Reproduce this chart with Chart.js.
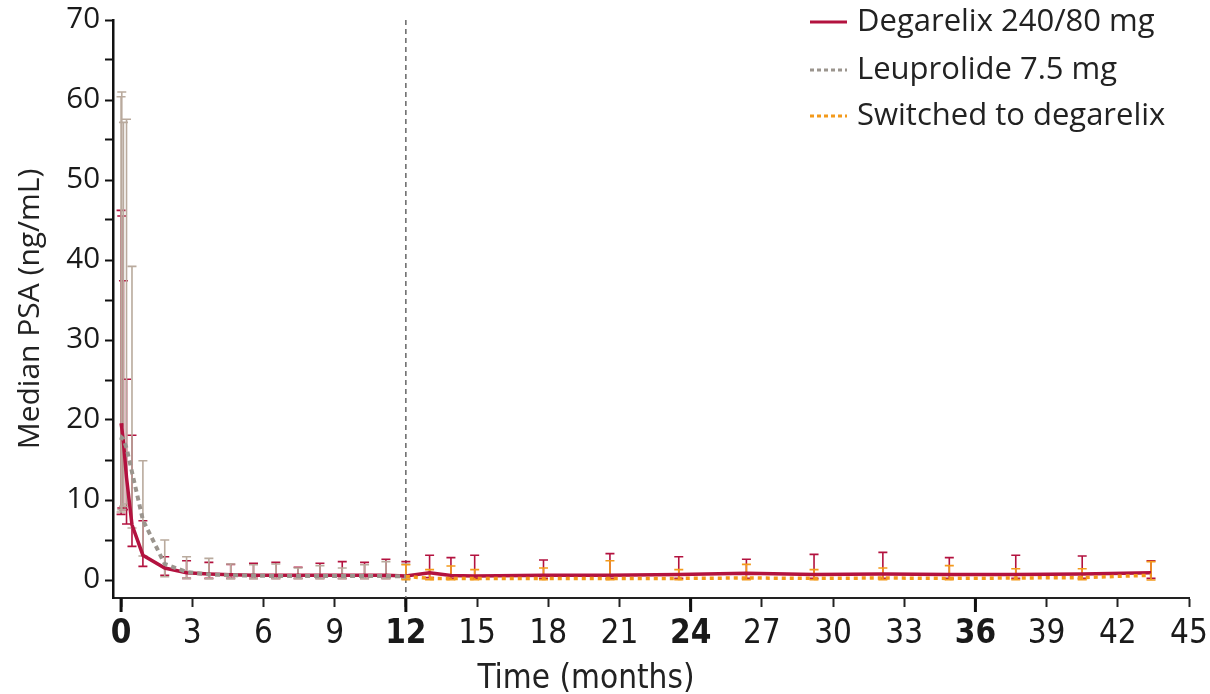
<!DOCTYPE html>
<html>
<head>
<meta charset="utf-8">
<script src="https://cdn.jsdelivr.net/npm/chart.js@4"></script>
<style>
  html, body { margin: 0; padding: 0; background: #fff; }
  canvas { display: block; }
</style>
</head>
<body>
<canvas id="psaChart" width="1210" height="694"></canvas>
<script>
// Time points (months) and median PSA with spread, per treatment group
const degMonths = [0, 0.03, 0.1, 0.23, 0.46, 0.92, 1.84, 2.76, 3.7, 4.62, 5.58, 6.52, 7.46, 8.38, 9.32, 10.26, 11.16, 12.0,
                   13.0, 13.9, 14.9, 17.8, 20.6, 23.5, 26.35, 29.2, 32.1, 34.9, 37.7, 40.5, 43.4];
const degMedian = [19.6, 19.0, 17.2, 12.8, 6.9, 3.1, 1.5, 0.9, 0.75, 0.65, 0.6, 0.6, 0.6, 0.6, 0.6, 0.6, 0.6, 0.5,
                   0.9, 0.55, 0.5, 0.6, 0.6, 0.7, 0.85, 0.7, 0.75, 0.7, 0.7, 0.75, 0.9];
const degHigh   = [46.2, 45.5, 37.4, 25.1, 18.1, 7.4, 2.9, 2.4, 2.2, 1.95, 2.1, 2.2, 1.6, 2.1, 2.3, 2.2, 2.6, 2.3,
                   3.1, 2.8, 3.1, 2.5, 3.3, 2.9, 2.6, 3.2, 3.45, 2.8, 3.1, 3.0, 2.4];
const degLow    = [8.2, 9.0, 8.8, 7.0, 4.2, 1.7, 0.6, 0.2, 0.2, 0.2, 0.2, 0.2, 0.2, 0.2, 0.2, 0.2, 0.2, 0.2,
                   0.3, 0.2, 0.2, 0.2, 0.2, 0.2, 0.2, 0.2, 0.2, 0.2, 0.2, 0.2, 0.2];

const leuMonths = [0, 0.03, 0.1, 0.23, 0.46, 0.92, 1.84, 2.76, 3.7, 4.62, 5.58, 6.52, 7.46, 8.38, 9.32, 10.26, 11.16, 12.0];
const leuMedian = [17.5, 17.8, 17.6, 16.5, 13.5, 7.5, 2.0, 1.0, 0.7, 0.6, 0.55, 0.5, 0.5, 0.5, 0.5, 0.5, 0.5, 0.45];
const leuHigh   = [60.4, 61.0, 57.2, 57.6, 39.2, 14.9, 5.0, 2.9, 2.7, 2.0, 1.9, 2.0, 1.5, 1.8, 1.5, 1.9, 2.3, 2.0];
const leuLow    = [8.5, 8.8, 9.2, 9.5, 6.5, 3.0, 0.4, 0.2, 0.15, 0.15, 0.15, 0.15, 0.15, 0.15, 0.15, 0.15, 0.15, 0.15];

const swMonths = [12.0, 13.0, 13.9, 14.9, 17.8, 20.6, 23.5, 26.35, 29.2, 32.1, 34.9, 37.7, 40.5, 43.4];
const swMedian = [0.45, 0.2, 0.2, 0.2, 0.2, 0.2, 0.2, 0.25, 0.2, 0.25, 0.2, 0.25, 0.3, 0.6];
const swHigh   = [1.9, 1.3, 1.75, 1.3, 1.5, 2.4, 1.3, 1.95, 1.3, 1.5, 1.8, 1.4, 1.4, 2.3];
const swLow    = [0.05, 0.05, 0.05, 0.05, 0.05, 0.05, 0.05, 0.05, 0.05, 0.05, 0.05, 0.05, 0.05, 0.0];

const xTicks = [0, 3, 6, 9, 12, 15, 18, 21, 24, 27, 30, 33, 36, 39, 42, 45];
const boldTicks = [0, 12, 24, 36];
const yTicks = [0, 5, 10, 15, 20, 25, 30, 35, 40, 45, 50, 55, 60, 65, 70];
const switchMonth = 12;

const seriesNames = ['Degarelix 240/80 mg', 'Leuprolide 7.5 mg', 'Switched to degarelix'];
const xTitle = 'Time (months)';

const RED = '#b3123f';
const GREY = '#9b958e';
const TAN = '#b9aa9d';
const ORANGE = '#f39a1b';
const NARROW = '"Liberation Sans Narrow", "DejaVu Sans Condensed", sans-serif';

const toPoints = (xs, ys) => xs.map((x, i) => ({ x: x, y: ys[i] }));

// whiskers with caps, drawn under the lines
const errorBars = {
  id: 'errorBars',
  beforeDatasetsDraw(chart) {
    const { ctx, scales: { x, y } } = chart;
    ctx.save();
    // switch point marker
    const px = x.getPixelForValue(switchMonth);
    ctx.strokeStyle = '#666';
    ctx.lineWidth = 1.5;
    ctx.setLineDash([5, 4]);
    ctx.beginPath();
    ctx.moveTo(px, chart.chartArea.top);
    ctx.lineTo(px, chart.chartArea.bottom);
    ctx.stroke();
    ctx.setLineDash([]);

    chart.data.datasets.forEach(ds => {
      if (!ds.errHigh) return;
      ctx.strokeStyle = ds.errColor;
      ctx.lineWidth = 1.6;
      ds.data.forEach((p, i) => {
        const cx = x.getPixelForValue(p.x);
        const yh = y.getPixelForValue(ds.errHigh[i]);
        const yl = y.getPixelForValue(ds.errLow[i]);
        const cap = 4.5;
        ctx.beginPath();
        ctx.moveTo(cx, yh); ctx.lineTo(cx, yl);
        ctx.moveTo(cx - cap, yh); ctx.lineTo(cx + cap, yh);
        ctx.moveTo(cx - cap, yl); ctx.lineTo(cx + cap, yl);
        ctx.stroke();
      });
    });
    ctx.restore();
  },
  afterDraw(chart) {
    const { ctx, scales: { x } } = chart;
    ctx.save();
    // longer, heavier ticks at each year
    ctx.strokeStyle = '#111';
    ctx.lineWidth = 3;
    boldTicks.forEach(v => {
      const px = x.getPixelForValue(v);
      ctx.beginPath();
      ctx.moveTo(px, x.top);
      ctx.lineTo(px, x.top + 14);
      ctx.stroke();
    });

    // x axis title, set a little left of centre
    ctx.fillStyle = '#222';
    ctx.font = '33px ' + NARROW;
    ctx.textAlign = 'center';
    ctx.textBaseline = 'middle';
    ctx.fillText(xTitle, 586, 679);

    // legend in the top right corner
    const rows = [
      { color: RED, dash: [], width: 3 },
      { color: GREY, dash: [4, 3], width: 3 },
      { color: ORANGE, dash: [4, 3], width: 3 }
    ];
    const rowY = [22, 70, 116];
    ctx.font = '31px "Open Sans"';
    ctx.textAlign = 'left';
    rows.forEach((r, i) => {
      ctx.strokeStyle = r.color;
      ctx.lineWidth = r.width;
      ctx.setLineDash(r.dash);
      ctx.beginPath();
      ctx.moveTo(810, rowY[i]);
      ctx.lineTo(847, rowY[i]);
      ctx.stroke();
      ctx.setLineDash([]);
      ctx.fillStyle = '#222';
      ctx.fillText(seriesNames[i], 857, rowY[i]);
    });
    ctx.restore();
  }
};

const ctx = document.getElementById('psaChart').getContext('2d');

new Chart(ctx, {
  type: 'line',
  data: {
    datasets: [
      {
        label: seriesNames[0],
        data: toPoints(degMonths, degMedian),
        errHigh: degHigh, errLow: degLow, errColor: RED,
        borderColor: RED,
        borderWidth: 3.5,
        pointRadius: 0,
        order: 2
      },
      {
        label: seriesNames[1],
        data: toPoints(leuMonths, leuMedian),
        errHigh: leuHigh, errLow: leuLow, errColor: TAN,
        borderColor: GREY,
        borderWidth: 4,
        borderDash: [5, 4],
        pointRadius: 0,
        order: 1
      },
      {
        label: seriesNames[2],
        data: toPoints(swMonths, swMedian),
        errHigh: swHigh, errLow: swLow, errColor: ORANGE,
        borderColor: ORANGE,
        borderWidth: 3.5,
        borderDash: [4, 4],
        pointRadius: 0,
        order: 0
      }
    ]
  },
  options: {
    responsive: false,
    animation: false,
    devicePixelRatio: 1,
    layout: { padding: { top: 20, right: 21, left: 0, bottom: 0 } },
    plugins: { legend: { display: false }, tooltip: { enabled: false } },
    scales: {
      x: {
        type: 'linear',
        min: -0.34,
        max: 45,
        afterBuildTicks: axis => { axis.ticks = xTicks.map(v => ({ value: v })); },
        afterFit: axis => {
          axis.height = 96;
          axis.paddingLeft = 0;
          axis.paddingRight = 0;
        },
        border: { color: '#222', width: 2 },
        grid: {
          drawOnChartArea: false,
          tickLength: 9,
          tickColor: '#222',
          tickWidth: 2
        },
        ticks: {
          padding: 11,
          color: '#1a1a1a',
          font: c => ({
            family: NARROW,
            size: 33,
            lineHeight: 1,
            weight: boldTicks.includes(c.tick && c.tick.value) ? 'bold' : 'normal'
          })
        }
      },
      y: {
        min: -2.25,
        max: 70,
        afterBuildTicks: axis => { axis.ticks = yTicks.map(v => ({ value: v })); },
        afterFit: axis => { axis.width = 113; },
        border: { color: '#111', width: 2.5 },
        grid: {
          drawOnChartArea: false,
          tickLength: 8,
          tickColor: '#111',
          tickWidth: 2
        },
        ticks: {
          padding: 5,
          color: '#1a1a1a',
          font: { family: '"Open Sans"', size: 29.5, lineHeight: 1 },
          callback: v => (v % 10 === 0 ? String(v) : '')
        },
        title: {
          display: true,
          text: 'Median PSA (ng/mL)',
          color: '#222',
          padding: { top: 15, bottom: 0 },
          font: { family: '"Open Sans"', size: 30, lineHeight: 1 }
        }
      }
    }
  },
  plugins: [errorBars]
});
</script>
</body>
</html>
